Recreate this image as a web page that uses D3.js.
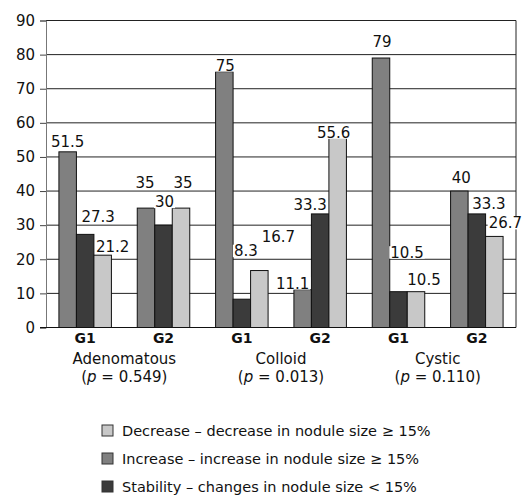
<!DOCTYPE html>
<html>
<head>
<meta charset="utf-8">
<script src="https://cdn.jsdelivr.net/npm/d3@7"></script>
<style>
  html, body { margin: 0; padding: 0; background: #fff; }
  text { font-family: "DejaVu Sans", sans-serif; fill: #111; }
</style>
</head>
<body>
<div id="chart"></div>
<script>
// Nodule size change by type and group
const groups = ["Adenomatous", "Colloid", "Cystic"];
const pValues = ["0.549", "0.013", "0.110"];
const subgroups = ["G1", "G2"];
const seriesNames = ["Increase", "Stability", "Decrease"];
const increase  = [51.5, 35, 75, 11.1, 79, 40];
const stability = [27.3, 30, 8.3, 33.3, 10.5, 33.3];
const decrease  = [21.2, 35, 16.7, 55.6, 10.5, 26.7];
const yTicks = [0, 10, 20, 30, 40, 50, 60, 70, 80, 90];
const legendLabels = [
  ["Decrease", "Decrease – decrease in nodule size ≥ 15%"],
  ["Increase", "Increase – increase in nodule size ≥ 15%"],
  ["Stability", "Stability – changes in nodule size < 15%"]
];

(function () {
  const W = 528, H = 496;
  const plot = { left: 46, right: 516, top: 20.5, bottom: 327.5 };
  const colors = { Increase: "#808080", Stability: "#3b3b3b", Decrease: "#c8c8c8" };

  // hand-placed value labels, like the original (dx from bar centre, dy from bar top)
  const labelNudge = {
    Increase:  { dx: [0, -1, 1, -10, 1, 2],    dy: [-5, -20, -1, -1, -11, -8] },
    Stability: { dx: [13, 1, 4, -10, 8.5, 12], dy: [-12, -18, -43, -4, -34, -4.6] },
    Decrease:  { dx: [10, 2, 19, -4, 8, 11],   dy: [-3.5, -20, -29, 0, -7, -8] }
  };

  const seriesValues = { Increase: increase, Stability: stability, Decrease: decrease };
  const slots = [];
  groups.forEach((g, gi) => subgroups.forEach((s, si) => slots.push({ key: g + s, group: g, sub: s, i: gi * 2 + si })));

  const svg = d3.select("#chart").append("svg").attr("width", W).attr("height", H);

  const x0 = d3.scaleBand().domain(slots.map(d => d.key)).range([plot.left, plot.right]);
  const x1 = d3.scaleBand().domain(seriesNames).range([-26.25, 26.25]);
  const y = d3.scaleLinear().domain([0, 90]).range([plot.bottom, plot.top]);

  // grid
  svg.append("g").selectAll("line").data(yTicks.filter(t => t > 0)).join("line")
    .attr("x1", plot.left).attr("x2", plot.right)
    .attr("y1", d => y(d)).attr("y2", d => y(d))
    .attr("stroke", "#222").attr("stroke-width", 1);
  svg.append("line")
    .attr("x1", plot.right).attr("x2", plot.right).attr("y1", plot.top).attr("y2", plot.bottom)
    .attr("stroke", "#222");

  // y axis
  const yAxis = svg.append("g").attr("transform", `translate(${plot.left},0)`)
    .call(d3.axisLeft(y).tickValues(yTicks).tickSize(6).tickPadding(5).tickFormat(d3.format("d")));
  yAxis.select(".domain").attr("stroke", "#777");
  yAxis.selectAll(".tick line").attr("stroke", "#444");
  yAxis.selectAll("text").attr("font-size", "15px").attr("font-family", "DejaVu Sans").attr("fill", "#111");

  // bars
  const flat = [];
  slots.forEach(s => seriesNames.forEach(n => flat.push({ slot: s, name: n, value: seriesValues[n][s.i] })));

  const bars = svg.append("g");
  bars.selectAll("rect").data(flat).join("rect")
    .attr("x", d => x0(d.slot.key) + x0.bandwidth() / 2 + x1(d.name))
    .attr("width", x1.bandwidth())
    .attr("y", d => y(d.value))
    .attr("height", d => y(0) - y(d.value))
    .attr("fill", d => colors[d.name])
    .attr("stroke", "#111").attr("stroke-width", 1);

  // bottom axis line
  svg.append("line")
    .attr("x1", plot.left - 6).attr("x2", plot.right).attr("y1", plot.bottom).attr("y2", plot.bottom)
    .attr("stroke", "#111");

  // value labels with white background
  const lblG = svg.append("g");
  flat.forEach(d => {
    const cx = x0(d.slot.key) + x0.bandwidth() / 2 + x1(d.name) + x1.bandwidth() / 2 + labelNudge[d.name].dx[d.slot.i];
    const by = y(d.value) + labelNudge[d.name].dy[d.slot.i];
    const g = lblG.append("g");
    const t = g.append("text").attr("x", cx).attr("y", by)
      .attr("text-anchor", "middle").attr("font-size", "15px").text(d.value);
    const bb = t.node().getBBox();
    g.insert("rect", "text")
      .attr("x", bb.x - 1).attr("width", bb.width + 2)
      .attr("y", by - 11.5).attr("height", 12.5)
      .attr("fill", "#fff");
  });

  // x labels
  const xl = svg.append("g");
  xl.selectAll("text").data(slots).join("text")
    .attr("x", d => x0(d.key) + x0.bandwidth() / 2).attr("y", 343)
    .attr("text-anchor", "middle").attr("font-size", "14px").attr("font-weight", "bold")
    .text(d => d.sub);

  groups.forEach((g, gi) => {
    const cx = (x0(g + "G1") + x0(g + "G2") + x0.bandwidth()) / 2;
    svg.append("text").attr("x", cx).attr("y", 364)
      .attr("text-anchor", "middle").attr("font-size", "15px").text(g);
    const p = svg.append("text").attr("x", cx).attr("y", 382)
      .attr("text-anchor", "middle").attr("font-size", "15px");
    p.append("tspan").text("(");
    p.append("tspan").attr("font-style", "italic").text("p");
    p.append("tspan").text(" = " + pValues[gi] + ")");
  });

  // legend
  const leg = svg.append("g").selectAll("g").data(legendLabels).join("g")
    .attr("transform", (d, i) => `translate(102, ${435.5 + i * 28})`);
  leg.append("rect").attr("x", 0).attr("y", -10.5).attr("width", 11).attr("height", 11)
    .attr("fill", d => colors[d[0]]).attr("stroke", "#333");
  leg.append("text").attr("x", 20).attr("y", 0).attr("font-size", "14.5px").text(d => d[1]);
})();
</script>
</body>
</html>
